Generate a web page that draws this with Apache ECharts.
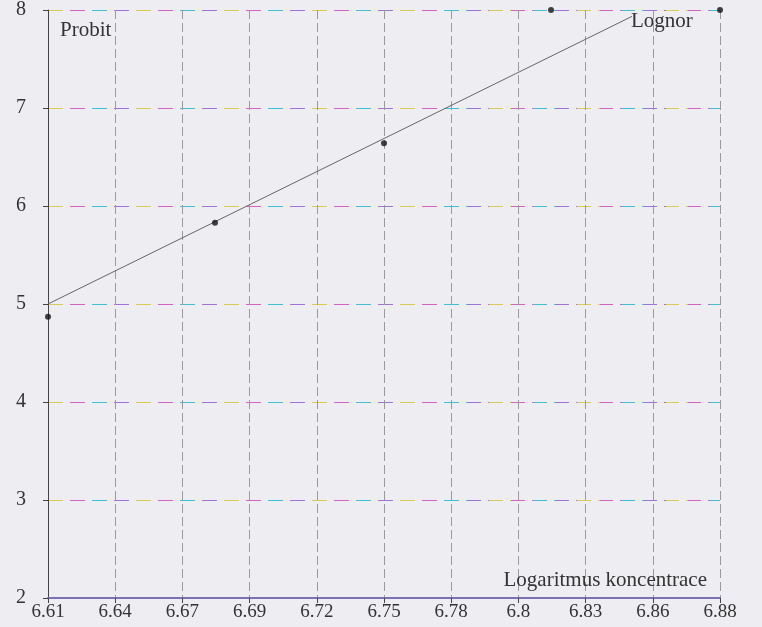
<!DOCTYPE html>
<html>
<head>
<meta charset="utf-8">
<script src="https://cdn.jsdelivr.net/npm/echarts@6/dist/echarts.min.js"></script>
<style>
  html, body { margin: 0; padding: 0; background: #eeedf2; }
  #chart { width: 762px; height: 627px; }
</style>
</head>
<body>
<div id="chart"></div>
<script>
// measured points (log concentration, probit)
const pointX = [6.612, 6.6796, 6.748, 6.8156, 6.884];
const pointY = [4.87, 5.83, 6.64, 8.0, 8.0];
// fitted lognormal line, start and end
const lineX = [6.612, 6.8484];
const lineY = [5.0, 7.935];
// axis ranges
const xRange = [6.612, 6.884];
const xStep = 0.0272;
const yRange = [2, 8];
const yStep = 1;
// colours of the dashed horizontal grid
const dashColors = ["#d8cc58", "#d462c0", "#44bfd2", "#9e72d6"];

const serif = "Liberation Serif";
const chart = echarts.init(document.getElementById("chart"));

// grid width 672px, one colour block per dash (15 on, 7 off)
const gridW = 672;
const block = 22;
const stops = [];
for (let p = 0, k = 0; p < gridW; p += block, k++) {
  const c = dashColors[k % dashColors.length];
  stops.push({ offset: p / gridW, color: c });
  stops.push({ offset: Math.min(1, (p + block) / gridW), color: c });
}
const rainbow = new echarts.graphic.LinearGradient(0, 0, 1, 0, stops);

chart.setOption({
  backgroundColor: "#eeedf2",
  animation: false,
  // 98px per probit unit keeps every grid row on an even pixel (crisp)
  grid: {
    left: 48,
    right: 42,
    top: 10,
    bottom: 29,
    containLabel: false,
    outerBoundsMode: "none",
  },
  xAxis: {
    type: "value",
    min: xRange[0],
    max: xRange[1],
    interval: xStep,
    name: "Logaritmus koncentrace",
    nameLocation: "end",
    nameGap: -13,
    nameTextStyle: {
      align: "right",
      verticalAlign: "bottom",
      padding: [0, 0, 7, 0],
      fontFamily: serif,
      fontSize: 21,
      color: "#333",
    },
    axisLine: { lineStyle: { color: "#7d70b4", width: 2 } },
    axisTick: { show: true, length: 5, lineStyle: { color: "#444" } },
    axisLabel: {
      margin: 5,
      fontFamily: serif,
      fontSize: 19,
      color: "#333",
      formatter: (v) => String(Number(v.toFixed(2))),
    },
    splitLine: {
      show: true,
      lineStyle: { color: "#9a9a9a", width: 1, type: [9, 4] },
    },
  },
  yAxis: {
    type: "value",
    min: yRange[0],
    max: yRange[1],
    interval: yStep,
    name: "Probit",
    nameLocation: "end",
    nameGap: -20,
    nameTextStyle: {
      align: "left",
      verticalAlign: "middle",
      padding: [0, 0, 0, 12],
      fontFamily: serif,
      fontSize: 21,
      color: "#333",
    },
    axisLine: { show: true, lineStyle: { color: "#444", width: 1 } },
    axisTick: { show: true, length: 5, lineStyle: { color: "#444" } },
    axisLabel: { margin: 22, fontFamily: serif, fontSize: 20, color: "#333" },
    splitLine: {
      show: true,
      lineStyle: { color: rainbow, width: 1, type: [15, 7] },
    },
  },
  series: [
    {
      name: "Lognor",
      type: "line",
      data: lineX.map((x, i) => [x, lineY[i]]),
      symbol: "none",
      lineStyle: { color: "#666", width: 1 },
      z: 3,
      endLabel: {
        show: true,
        formatter: "Lognor",
        fontFamily: serif,
        fontSize: 21,
        color: "#333",
        distance: 0,
        offset: [-1, 5],
      },
    },
    {
      name: "Probit",
      type: "scatter",
      data: pointX.map((x, i) => [x, pointY[i]]),
      symbolSize: 6,
      clip: false,
      itemStyle: { color: "#111" },
      z: 4,
    },
  ],
});
</script>
</body>
</html>
